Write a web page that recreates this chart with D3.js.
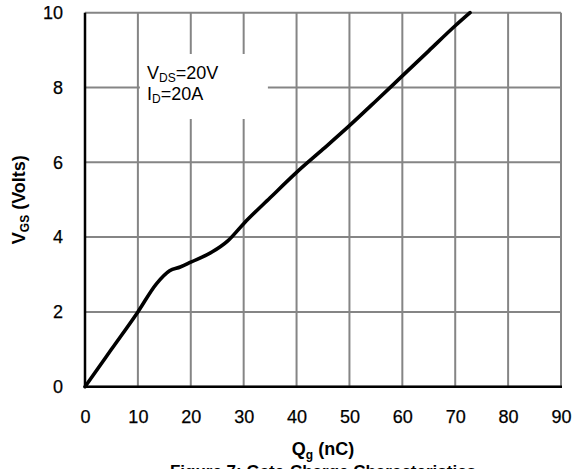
<!DOCTYPE html>
<html>
<head>
<meta charset="utf-8">
<script src="https://cdn.jsdelivr.net/npm/d3@7"></script>
<style>
  body { margin: 0; background: #fff; }
  svg { display: block; font-family: "Liberation Sans", Arial, sans-serif; }
</style>
</head>
<body>
<svg id="chart" width="574" height="469"></svg>
<script>
// gate charge curve
var qg  = [0, 5, 10, 13.5, 16, 18, 20, 24, 27, 30, 35, 40, 45, 50, 55, 60, 65, 70, 72.8];
var vgs = [0, 1.0, 2.0, 2.75, 3.1, 3.2, 3.33, 3.6, 3.9, 4.36, 5.05, 5.73, 6.35, 6.98, 7.64, 8.31, 8.98, 9.65, 10.0];

var xTicks = [0, 10, 20, 30, 40, 50, 60, 70, 80, 90];
var yTicks = [0, 2, 4, 6, 8, 10];

var margin = {left: 85, top: 12.7, right: 13, bottom: 82.3};
var width = 574 - margin.left - margin.right;
var height = 469 - margin.top - margin.bottom;

var svg = d3.select("#chart");
var g = svg.append("g")
    .attr("transform", "translate(" + margin.left + "," + margin.top + ")");

var x = d3.scaleLinear().domain([0, 90]).range([0, width]);
var y = d3.scaleLinear().domain([0, 10]).range([height, 0]);

// grid
g.selectAll(".vgrid")
  .data(xTicks)
  .enter()
  .append("line")
    .attr("class", "vgrid")
    .attr("x1", function(d) { return x(d); })
    .attr("x2", function(d) { return x(d); })
    .attr("y1", 0)
    .attr("y2", height)
    .attr("stroke", "#858585")
    .attr("stroke-width", 2);

g.selectAll(".hgrid")
  .data(yTicks)
  .enter()
  .append("line")
    .attr("class", "hgrid")
    .attr("x1", 0)
    .attr("x2", width)
    .attr("y1", function(d) { return y(d); })
    .attr("y2", function(d) { return y(d); })
    .attr("stroke", "#858585")
    .attr("stroke-width", 2);

// white box behind the note
g.append("rect")
    .attr("x", x(10) + 2)
    .attr("y", 54 - margin.top)
    .attr("width", 128)
    .attr("height", 65)
    .attr("fill", "#fff");

// axes lines
g.append("line")
    .attr("x1", 0).attr("x2", 0)
    .attr("y1", 0).attr("y2", height + 1)
    .attr("stroke", "#000").attr("stroke-width", 2.5);
g.append("line")
    .attr("x1", -1).attr("x2", width + 1)
    .attr("y1", height).attr("y2", height)
    .attr("stroke", "#000").attr("stroke-width", 2.5);

// tick labels
var xAxis = g.append("g")
    .attr("transform", "translate(0," + height + ")")
    .call(d3.axisBottom(x).tickValues(xTicks).tickSize(0).tickPadding(24));
var yAxis = g.append("g")
    .call(d3.axisLeft(y).tickValues(yTicks).tickSize(0).tickPadding(22));
[xAxis, yAxis].forEach(function(a) {
    a.select(".domain").remove();
    a.selectAll("text")
      .attr("font-family", "'Liberation Sans', Arial, sans-serif")
      .attr("font-size", 18)
      .attr("fill", "#000")
      .attr("stroke", "#000")
      .attr("stroke-width", 0.25);
});

// curve
var line = d3.line()
    .x(function(d, i) { return x(qg[i]); })
    .y(function(d) { return y(d); })
    .curve(d3.curveMonotoneX);

g.append("path")
    .datum(vgs)
    .attr("d", line)
    .attr("fill", "none")
    .attr("stroke", "#000")
    .attr("stroke-width", 3.6)
    .attr("stroke-linejoin", "round")
    .attr("stroke-linecap", "round");

// note
var note = svg.append("text")
    .attr("font-size", 18)
    .attr("fill", "#000");
var l1 = note.append("tspan").attr("x", 147).attr("y", 78.5);
l1.append("tspan").text("V");
l1.append("tspan").attr("font-size", 12).attr("dy", 3).text("DS");
l1.append("tspan").attr("dy", -3).text("=20V");
var l2 = note.append("tspan").attr("x", 147).attr("y", 100);
l2.append("tspan").text("I");
l2.append("tspan").attr("font-size", 12).attr("dy", 3).text("D");
l2.append("tspan").attr("dy", -3).text("=20A");

// axis titles
var yt = svg.append("text")
    .attr("transform", "translate(25," + (margin.top + height / 2) + ") rotate(-90)")
    .attr("text-anchor", "middle")
    .attr("font-size", 18)
    .attr("font-weight", "bold");
yt.append("tspan").text("V");
yt.append("tspan").attr("font-size", 12).attr("dy", 4).text("GS");
yt.append("tspan").attr("dy", -4).text(" (Volts)");

var xt = svg.append("text")
    .attr("x", margin.left + width / 2)
    .attr("y", 455)
    .attr("text-anchor", "middle")
    .attr("font-size", 18)
    .attr("font-weight", "bold");
xt.append("tspan").text("Q");
xt.append("tspan").attr("font-size", 12).attr("dy", 4).text("g");
xt.append("tspan").attr("dy", -4).text(" (nC)");

svg.append("text")
    .attr("x", margin.left + width / 2)
    .attr("y", 477)
    .attr("text-anchor", "middle")
    .attr("font-size", 17)
    .attr("font-weight", "bold")
    .text("Figure 7: Gate-Charge Characteristics");
</script>
</body>
</html>
